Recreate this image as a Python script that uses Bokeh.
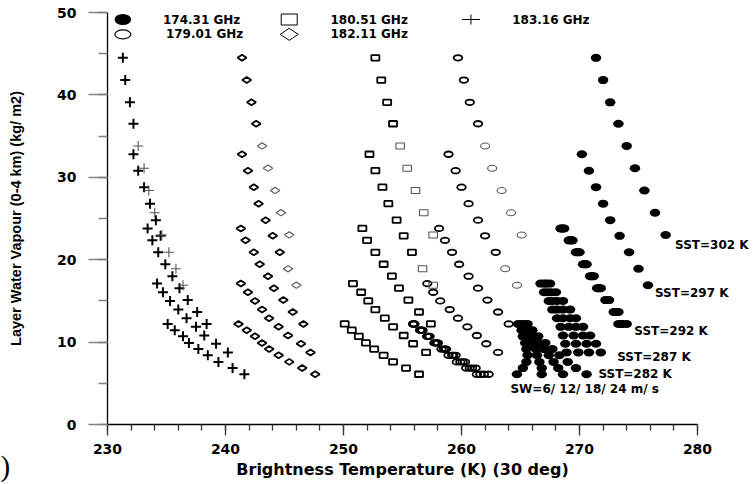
import numpy as np
from bokeh.plotting import figure
from bokeh.models import Range1d, SingleIntervalTicker, Label
from bokeh.embed import file_html
from bokeh.resources import INLINE

# ------------------------------------------------------------------ data
FREQ_LABELS = ["174.31 GHz", "179.01 GHz", "180.51 GHz", "182.11 GHz", "183.16 GHz"]
SST_LABELS = ["SST=302 K", "SST=297 K", "SST=292 K", "SST=287 K", "SST=282 K"]
SW_LABEL = "SW=6/ 12/ 18/ 24 m/ s"
WIND_SPEEDS = [6, 12, 18, 24]

# layer water vapour (kg/m2) of the profiles used for each SST
VAP_SST302 = [44.5, 41.8, 39.1, 36.5, 33.8, 31.1, 28.4, 25.7, 23.0]
VAP_SST297 = [32.8, 30.8, 28.8, 26.8, 24.8, 22.9, 20.9, 18.9, 16.9]
VAP_SST292 = [23.8, 22.35, 20.9, 19.45, 18.0, 16.55, 15.1, 13.65, 12.2]
VAP_SST287 = [17.1, 16.05, 15.0, 13.95, 12.9, 11.85, 10.8, 9.8, 8.75]
VAP_SST282 = [12.2, 11.45, 10.7, 9.9, 9.15, 8.4, 7.6, 6.85, 6.1]

# 174.31 GHz brightness temperatures (K)
TB_17431_SST302 = [271.4, 272.0, 272.6, 273.3, 274.0, 274.7, 275.5, 276.4, 277.3]
TB_17431_SST297 = [270.2, 270.8, 271.4, 272.0, 272.6, 273.4, 274.2, 275.0, 275.8]
TB_17431_SST292_SW6 = [268.4, 269.1, 269.7, 270.3, 270.9, 271.5, 272.2, 272.9, 273.3]
TB_17431_SST292_SW12 = [268.5, 269.2, 269.8, 270.4, 271.0, 271.6, 272.3, 273.0, 273.5]
TB_17431_SST292_SW18 = [268.6, 269.3, 269.9, 270.5, 271.1, 271.7, 272.4, 273.1, 273.7]
TB_17431_SST292_SW24 = [268.7, 269.4, 270.0, 270.6, 271.2, 271.8, 272.5, 273.3, 274.0]
TB_17431_SST287_SW6 = [266.7, 267.0, 267.4, 267.7, 268.1, 268.4, 268.6, 268.8, 268.9]
TB_17431_SST287_SW12 = [267.0, 267.3, 267.7, 268.1, 268.6, 269.1, 269.5, 269.7, 269.9]
TB_17431_SST287_SW18 = [267.2, 267.6, 268.1, 268.6, 269.2, 269.7, 270.3, 270.6, 270.8]
TB_17431_SST287_SW24 = [267.5, 268.0, 268.6, 269.2, 269.7, 270.3, 270.9, 271.4, 271.8]
TB_17431_SST282_SW6 = [264.8, 265.1, 265.2, 265.4, 265.5, 265.6, 265.5, 265.2, 264.7]
TB_17431_SST282_SW12 = [265.1, 265.3, 265.7, 266.0, 266.3, 266.4, 266.6, 266.8, 266.8]
TB_17431_SST282_SW18 = [265.3, 265.7, 266.1, 266.5, 267.0, 267.4, 267.8, 268.2, 268.6]
TB_17431_SST282_SW24 = [265.6, 266.0, 266.5, 267.1, 267.7, 268.3, 269.0, 269.7, 270.6]

# 179.01 GHz
TB_17901_SST302 = [259.7, 260.2, 260.7, 261.4, 262.0, 262.6, 263.4, 264.2, 265.1]
TB_17901_SST297 = [258.9, 259.5, 260.0, 260.6, 261.4, 262.0, 262.9, 263.7, 264.7]
TB_17901_SST292 = [258.1, 258.6, 259.2, 259.8, 260.6, 261.4, 262.2, 263.1, 264.0]
TB_17901_SST287 = [257.1, 257.6, 258.2, 259.0, 259.7, 260.5, 261.3, 262.1, 263.1]
TB_17901_SST282_SW6 = [255.9, 256.5, 257.1, 257.7, 258.3, 258.9, 259.6, 260.4, 261.3]
TB_17901_SST282_SW12 = [255.9, 256.5, 257.1, 257.8, 258.5, 259.2, 259.9, 260.7, 261.6]
TB_17901_SST282_SW18 = [256.0, 256.6, 257.2, 257.9, 258.6, 259.3, 260.1, 260.9, 261.9]
TB_17901_SST282_SW24 = [256.0, 256.7, 257.3, 258.0, 258.7, 259.5, 260.3, 261.2, 262.3]

# 180.51 GHz
TB_18051_SST302 = [252.7, 253.2, 253.7, 254.2, 254.8, 255.4, 256.1, 256.8, 257.6]
TB_18051_SST297 = [252.2, 252.7, 253.3, 253.8, 254.5, 255.1, 255.8, 256.7, 257.6]
TB_18051_SST292 = [251.6, 252.0, 252.7, 253.4, 254.1, 254.7, 255.5, 256.4, 257.4]
TB_18051_SST287 = [250.8, 251.5, 252.1, 252.7, 253.5, 254.2, 255.1, 255.9, 257.0]
TB_18051_SST282 = [250.1, 250.7, 251.3, 251.9, 252.6, 253.4, 254.2, 255.3, 256.4]

# 182.11 GHz
TB_18211_SST302 = [241.4, 241.8, 242.2, 242.6, 243.1, 243.6, 244.2, 244.7, 245.4]
TB_18211_SST297 = [241.4, 241.9, 242.4, 242.8, 243.4, 244.0, 244.6, 245.3, 246.0]
TB_18211_SST292 = [241.3, 241.7, 242.4, 242.9, 243.6, 244.1, 244.9, 245.7, 246.6]
TB_18211_SST287 = [241.3, 241.9, 242.5, 243.1, 243.7, 244.5, 245.3, 246.4, 247.2]
TB_18211_SST282 = [241.1, 241.8, 242.5, 243.1, 243.7, 244.5, 245.4, 246.5, 247.6]

# 183.16 GHz
TB_18316_SST302 = [231.3, 231.5, 231.9, 232.2, 232.6, 233.1, 233.5, 234.0, 234.6]
TB_18316_SST297 = [232.2, 232.6, 233.1, 233.6, 234.1, 234.5, 235.2, 235.8, 236.4]
TB_18316_SST292 = [233.4, 233.8, 234.3, 234.9, 235.5, 236.1, 236.8, 237.6, 238.4]
TB_18316_SST287 = [234.2, 234.7, 235.3, 236.0, 236.7, 237.5, 238.2, 239.2, 240.2]
TB_18316_SST282 = [235.1, 235.7, 236.4, 236.9, 237.7, 238.5, 239.4, 240.6, 241.6]

# ------------------------------------------------------------------ style / layout
THICK = 1.8
THIN = 1.1
THIN_COLOR = "#555555"
TICK_FONT = "DejaVu Sans"

# index from which the points of a curve are drawn with a thin grey outline
THIN_FROM_302 = 4
THIN_FROM_297 = 7
THIN_FROM_297_PLUS = 6

FILLED = [(VAP_SST302, TB_17431_SST302, None), (VAP_SST297, TB_17431_SST297, None),
          (VAP_SST292, TB_17431_SST292_SW6, None), (VAP_SST292, TB_17431_SST292_SW12, None),
          (VAP_SST292, TB_17431_SST292_SW18, None), (VAP_SST292, TB_17431_SST292_SW24, None),
          (VAP_SST287, TB_17431_SST287_SW6, None), (VAP_SST287, TB_17431_SST287_SW12, None),
          (VAP_SST287, TB_17431_SST287_SW18, None), (VAP_SST287, TB_17431_SST287_SW24, None),
          (VAP_SST282, TB_17431_SST282_SW6, None), (VAP_SST282, TB_17431_SST282_SW12, None),
          (VAP_SST282, TB_17431_SST282_SW18, None), (VAP_SST282, TB_17431_SST282_SW24, None)]
OPEN = [(VAP_SST302, TB_17901_SST302, THIN_FROM_302), (VAP_SST297, TB_17901_SST297, THIN_FROM_297),
        (VAP_SST292, TB_17901_SST292, None), (VAP_SST287, TB_17901_SST287, None),
        (VAP_SST282, TB_17901_SST282_SW6, None), (VAP_SST282, TB_17901_SST282_SW12, None),
        (VAP_SST282, TB_17901_SST282_SW18, None), (VAP_SST282, TB_17901_SST282_SW24, None)]
SQUARES = [(VAP_SST302, TB_18051_SST302, THIN_FROM_302), (VAP_SST297, TB_18051_SST297, THIN_FROM_297),
           (VAP_SST292, TB_18051_SST292, None), (VAP_SST287, TB_18051_SST287, None),
           (VAP_SST282, TB_18051_SST282, None)]
DIAMONDS = [(VAP_SST302, TB_18211_SST302, THIN_FROM_302), (VAP_SST297, TB_18211_SST297, THIN_FROM_297),
            (VAP_SST292, TB_18211_SST292, None), (VAP_SST287, TB_18211_SST287, None),
            (VAP_SST282, TB_18211_SST282, None)]
PLUSES = [(VAP_SST302, TB_18316_SST302, THIN_FROM_302), (VAP_SST297, TB_18316_SST297, THIN_FROM_297_PLUS),
          (VAP_SST292, TB_18316_SST292, None), (VAP_SST287, TB_18316_SST287, None),
          (VAP_SST282, TB_18316_SST282, None)]


def split(groups):
    tx, ty, nx, ny = [], [], [], []
    for vap, tb, thin_from in groups:
        for i, (t, v) in enumerate(zip(tb, vap)):
            if thin_from is not None and i >= thin_from:
                nx.append(t); ny.append(v)
            else:
                tx.append(t); ty.append(v)
    return tx, ty, nx, ny


# The plotting frame covers the whole canvas; the axes are pinned at T=230 K and
# V=0 and limited to the 230-280 K / 0-50 kg/m2 span, so that the annotations
# placed beside the axes are not clipped.
W, H = 753, 484
PX_PER_K = 11.8
PX_PER_V = 8.24
AX_LEFT_PX, AX_BOTTOM_PX, AX_TOP_PX = 107, 60, 12
x_start = 230 - AX_LEFT_PX / PX_PER_K
x_end = x_start + W / PX_PER_K
y_start = 0 - AX_BOTTOM_PX / PX_PER_V
y_end = 50 + AX_TOP_PX / PX_PER_V

p = figure(width=W, height=H, x_range=Range1d(x_start, x_end), y_range=Range1d(y_start, y_end),
           output_backend="svg", toolbar_location=None,
           min_border_left=0, min_border_right=0, min_border_top=0, min_border_bottom=0)
p.outline_line_color = None
p.grid.visible = False
p.background_fill_color = "white"
p.border_fill_color = "white"

xa = p.xaxis[0]
xa.fixed_location = 0
xa.bounds = (230, 280)
xa.ticker = SingleIntervalTicker(interval=10, num_minor_ticks=5)
xa.axis_line_color = "black"
xa.axis_line_width = 1.3
xa.major_tick_out = 11
xa.major_tick_in = 0
xa.minor_tick_out = 6
xa.minor_tick_in = 0
xa.major_tick_line_color = "#333333"
xa.minor_tick_line_color = "#333333"
xa.major_tick_line_width = 1.3
xa.minor_tick_line_width = 1.3
xa.major_label_text_font = TICK_FONT
xa.major_label_text_font_style = "bold"
xa.major_label_text_font_size = "14px"
xa.major_label_text_color = "black"
xa.major_label_standoff = 8
xa.axis_label = "Brightness Temperature (K) (30 deg)"
xa.axis_label_text_font = TICK_FONT
xa.axis_label_text_font_style = "bold"
xa.axis_label_text_font_size = "16px"
xa.axis_label_text_color = "black"
xa.axis_label_standoff = 3

ya = p.yaxis[0]
ya.fixed_location = 230
ya.bounds = (0, 50)
ya.ticker = SingleIntervalTicker(interval=10, num_minor_ticks=2)
ya.axis_line_color = "black"
ya.axis_line_width = 1.3
ya.major_tick_out = 19
ya.major_tick_in = 0
ya.minor_tick_out = 9
ya.minor_tick_in = 0
ya.major_tick_line_color = "#808080"
ya.minor_tick_line_color = "#808080"
ya.major_tick_line_width = 1.5
ya.minor_tick_line_width = 1.5
ya.major_label_text_font = TICK_FONT
ya.major_label_text_font_style = "bold"
ya.major_label_text_font_size = "14px"
ya.major_label_text_color = "black"
ya.major_label_standoff = 12
ya.axis_label = "Layer Water Vapour (0-4 km) (kg/ m2)"
ya.axis_label_text_font = "Liberation Sans"
ya.axis_label_text_font_style = "bold"
ya.axis_label_text_font_size = "14.5px"
ya.axis_label_text_color = "black"
ya.axis_label_standoff = 30

# ---- data marks
fx, fy, _, _ = split(FILLED)
p.ellipse(fx, fy, width=10.5, height=8, width_units="screen", height_units="screen",
          fill_color="black", line_color=None)

ox, oy, onx, ony = split(OPEN)
p.ellipse(ox, oy, width=8.5, height=5.5, width_units="screen", height_units="screen",
          fill_color=None, line_color="black", line_width=THICK)
p.ellipse(onx, ony, width=9, height=6, width_units="screen", height_units="screen",
          fill_color=None, line_color=THIN_COLOR, line_width=THIN)

sx, sy, snx, sny = split(SQUARES)
p.rect(sx, sy, width=8, height=5.5, width_units="screen", height_units="screen",
       fill_color=None, line_color="black", line_width=THICK)
p.rect(snx, sny, width=8.5, height=6, width_units="screen", height_units="screen",
       fill_color=None, line_color=THIN_COLOR, line_width=THIN)

dx, dy, dnx, dny = split(DIAMONDS)
p.scatter(dx, dy, marker="diamond", size=9, angle=np.pi / 2,
          fill_color=None, line_color="black", line_width=THICK)
p.scatter(dnx, dny, marker="diamond", size=9.5, angle=np.pi / 2,
          fill_color=None, line_color=THIN_COLOR, line_width=THIN)

cx, cy, cnx, cny = split(PLUSES)
p.scatter(cx, cy, marker="cross", size=10, line_color="black", line_width=2)
p.scatter(cnx, cny, marker="cross", size=10, line_color="#555555", line_width=THIN)

# ---- legend (layout positions in data units)
LEG_COL_X = [231.3, 245.4, 260.8]
LEG_ROW_Y = [49.15, 47.35]
LEG_TEXT_X = [234.7, 248.9, 264.3]

p.ellipse([LEG_COL_X[0]], [LEG_ROW_Y[0]], width=16.5, height=11, width_units="screen",
          height_units="screen", fill_color="black", line_color=None)
p.ellipse([LEG_COL_X[0]], [LEG_ROW_Y[1]], width=16, height=9, width_units="screen",
          height_units="screen", fill_color=None, line_color="black", line_width=1.2)
p.rect([LEG_COL_X[1]], [LEG_ROW_Y[0]], width=16, height=11, width_units="screen",
       height_units="screen", fill_color=None, line_color="black", line_width=1)
p.scatter([LEG_COL_X[1]], [LEG_ROW_Y[1]], marker="diamond", size=18, angle=np.pi / 2,
          fill_color=None, line_color="black", line_width=1)
p.scatter([LEG_COL_X[2]], [LEG_ROW_Y[0]], marker="dash", size=18, line_color="black", line_width=1)
p.scatter([LEG_COL_X[2]], [LEG_ROW_Y[0]], marker="dash", size=10, angle=np.pi / 2,
          line_color="black", line_width=1)

leg_pos = [(LEG_TEXT_X[0], LEG_ROW_Y[0]), (LEG_TEXT_X[0] + 0.25, LEG_ROW_Y[1]),
           (LEG_TEXT_X[1], LEG_ROW_Y[0]), (LEG_TEXT_X[1], LEG_ROW_Y[1]),
           (LEG_TEXT_X[2], LEG_ROW_Y[0])]
for (lx, ly), txt in zip(leg_pos, FREQ_LABELS):
    p.add_layout(Label(x=lx, y=ly, text=txt, text_font=TICK_FONT, text_font_style="bold",
                       text_font_size="12px", text_baseline="middle", text_align="left",
                       text_color="black"))

# ---- SST / wind annotations
SST_LABEL_POS = [(278.1, 21.75), (276.4, 15.9), (274.65, 11.3), (273.2, 8.15), (271.6, 6.1)]
for (lx, ly), txt in zip(SST_LABEL_POS, SST_LABELS):
    p.add_layout(Label(x=lx, y=ly, text=txt, text_font=TICK_FONT, text_font_style="bold",
                       text_font_size="12px", text_baseline="middle", text_align="left",
                       text_color="black"))
p.add_layout(Label(x=264.15, y=4.25, text=SW_LABEL, text_font=TICK_FONT, text_font_style="bold",
                   text_font_size="12px", text_baseline="middle", text_align="left",
                   text_color="black"))

# cropped panel tag at the lower left corner
p.add_layout(Label(x=x_start, y=-5.0, text=")", text_font="Liberation Serif",
                   text_font_size="29px", text_baseline="middle", text_align="left",
                   text_color="black"))

open("out.html", "w").write(file_html(p, INLINE))
